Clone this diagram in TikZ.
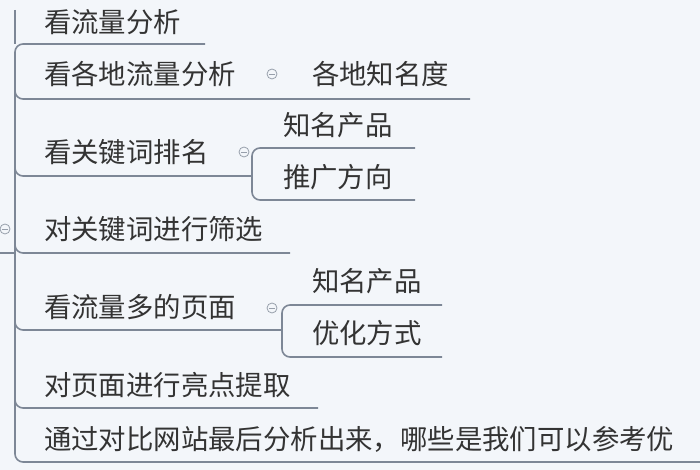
\documentclass[tikz,border=0pt]{standalone}
\usepackage{fontspec}
\newfontfamily\cjk{Noto Sans CJK SC}
\begin{document}
\begin{tikzpicture}[x=1bp,y=-1bp,
  ln/.style={draw=lnc,line width=1.6bp,rounded corners=8bp},
  tx/.style={anchor=west,inner sep=0,text=txc,font=\cjk\fontsize{27.5}{30}\selectfont},
  cc/.style={circle,draw=lnc!80,line width=0.8bp,minimum size=10bp,inner sep=0}]
\definecolor{lnc}{HTML}{7D8796}
\definecolor{txc}{HTML}{333333}
\definecolor{bgc}{HTML}{F3F6FA}
\fill[bgc] (0,0) rectangle (700,470);
\useasboundingbox (0,0) rectangle (700,470);
% spine
\draw[ln] (205,44) -- (15,44) -- (15,462) -- (700,462);
\draw[lnc,line width=1.6bp] (15,10) -- (15,44);
\draw[lnc,line width=1.6bp] (0,253) -- (15,253);
\foreach \y/\e in {99/470,176/252,253/290,330/282,408/318}{
  \draw[ln] (15,\y-30) -- (15,\y) -- (\e,\y);}
% sub brackets
\draw[ln] (415,148) -- (252,148) -- (252,200) -- (415,200);
\draw[ln] (442,305) -- (282,305) -- (282,357) -- (442,357);
% texts
\node[tx] (a) at (44,22) {看流量分析};
\node[tx] (b) at (44,74) {看各地流量分析};
\node[tx] (b1) at (312,74) {各地知名度};
\node[tx] (c) at (44,152) {看关键词排名};
\node[tx] (c1) at (283,125) {知名产品};
\node[tx] (c2) at (283,177) {推广方向};
\node[tx] (d) at (44,229) {对关键词进行筛选};
\node[tx] (e) at (44,307) {看流量多的页面};
\node[tx] (e1) at (312,281) {知名产品};
\node[tx] (e2) at (312,333) {优化方式};
\node[tx] (f) at (44,385) {对页面进行亮点提取};
\node[tx] (g) at (44,439) {通过对比网站最后分析出来，哪些是我们可以参考优};
% collapse icons
\foreach \p in {(5,229),(272,74),(244,152),(272,308)}{
  \node[cc] at \p {}; \draw[lnc!80,line width=0.8bp] \p ++(-3,0) -- ++(6,0);}
\end{tikzpicture}
\end{document}
